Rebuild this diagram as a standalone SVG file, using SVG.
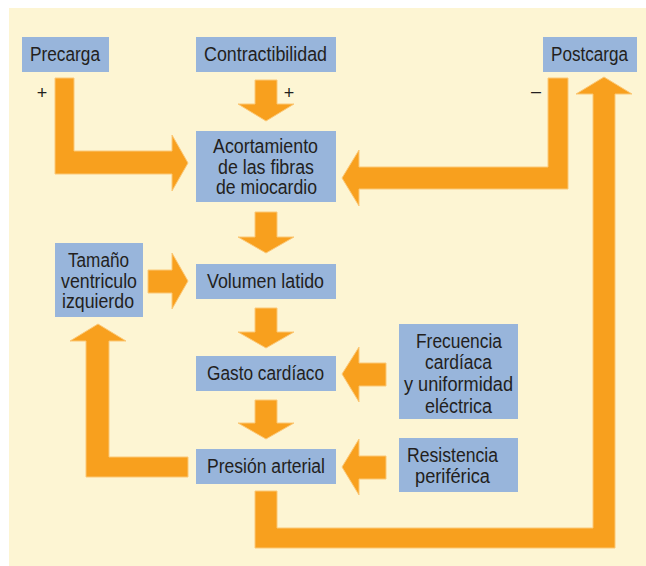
<svg xmlns="http://www.w3.org/2000/svg" width="646" height="566" viewBox="0 0 646 566">
<style>
.bg{fill:#fdf5d3}
.box{fill:#98b5db}
.t{font-family:"Liberation Sans",Arial,sans-serif;font-size:19.5px;fill:#231f20;text-anchor:middle}
.s{font-family:"Liberation Sans",Arial,sans-serif;font-size:18px;fill:#231f20;text-anchor:middle}
.arr{fill:#f8a01e;stroke:#fbc877;stroke-width:1;stroke-linejoin:miter}
</style>
<rect width="646" height="566" fill="#ffffff"/>
<rect class="bg" x="9" y="8" width="637" height="558"/>
<g id="connectors">
<polygon class="arr" points="55,78 74,78 74,151 172,151 172,135 188,163 172,191 172,174 55,174"/>
<polygon class="arr" points="255,80 277,80 277,104 294,104 266,121 238,104 255,104"/>
<polygon class="arr" points="255,212 277,212 277,237 294,237 266,253 238,237 255,237"/>
<polygon class="arr" points="255,308 277,308 277,332 294,332 266,348 238,332 255,332"/>
<polygon class="arr" points="255,400 277,400 277,423 294,423 266,439 238,423 255,423"/>
<polygon class="arr" points="148,270 172,270 172,253 188,281 172,309 172,293 148,293"/>
<polygon class="arr" points="188,457 188,477 86,477 86,341 70,341 98,324 126,341 109,341 109,457"/>
<polygon class="arr" points="255,491 277,491 277,528 593,528 593,94 576,94 604,77 632,94 615,94 615,548 255,548"/>
<polygon class="arr" points="548,78 568,78 568,189 359,189 359,206 342,178 359,150 359,167 548,167"/>
<polygon class="arr" points="386,363 386,386 359,386 359,402 342,374 359,347 359,363"/>
<polygon class="arr" points="386,456 386,479 359,479 359,495 342,467 359,439 359,456"/>
<text class="s" x="42" y="99">+</text>
<text class="s" x="289" y="99">+</text>
<text class="s" x="536" y="97">–</text>
</g>
<g id="precarga">
<rect class="box" x="22" y="37" width="87" height="35"/>
<text class="t" x="65" y="61" textLength="70" lengthAdjust="spacingAndGlyphs">Precarga</text>
</g>
<g id="contractibilidad">
<rect class="box" x="196" y="37" width="140" height="35"/>
<text class="t" x="265.5" y="61" textLength="123" lengthAdjust="spacingAndGlyphs">Contractibilidad</text>
</g>
<g id="postcarga">
<rect class="box" x="543" y="37" width="94" height="35"/>
<text class="t" x="589.5" y="61" textLength="77" lengthAdjust="spacingAndGlyphs">Postcarga</text>
</g>
<g id="acortamiento">
<rect class="box" x="196" y="131" width="140" height="71"/>
<text class="t" x="265.5" y="153" textLength="105" lengthAdjust="spacingAndGlyphs">Acortamiento</text>
<text class="t" x="266" y="174" textLength="96" lengthAdjust="spacingAndGlyphs">de las fibras</text>
<text class="t" x="266.5" y="194" textLength="101" lengthAdjust="spacingAndGlyphs">de miocardio</text>
</g>
<g id="tamano">
<rect class="box" x="55" y="243" width="88" height="74"/>
<text class="t" x="98.5" y="267" textLength="61" lengthAdjust="spacingAndGlyphs">Tamaño</text>
<text class="t" x="99" y="288" textLength="76" lengthAdjust="spacingAndGlyphs">ventriculo</text>
<text class="t" x="98" y="308" textLength="72" lengthAdjust="spacingAndGlyphs">izquierdo</text>
</g>
<g id="volumen">
<rect class="box" x="196" y="264" width="140" height="35"/>
<text class="t" x="265.5" y="288" textLength="117" lengthAdjust="spacingAndGlyphs">Volumen latido</text>
</g>
<g id="gasto">
<rect class="box" x="196" y="356" width="140" height="35"/>
<text class="t" x="265.5" y="380" textLength="117" lengthAdjust="spacingAndGlyphs">Gasto cardíaco</text>
</g>
<g id="presion">
<rect class="box" x="196" y="449" width="140" height="35"/>
<text class="t" x="266" y="473" textLength="118" lengthAdjust="spacingAndGlyphs">Presión arterial</text>
</g>
<g id="frecuencia">
<rect class="box" x="399" y="324" width="119" height="95"/>
<text class="t" x="459" y="348" textLength="86" lengthAdjust="spacingAndGlyphs">Frecuencia</text>
<text class="t" x="458.5" y="369" textLength="67" lengthAdjust="spacingAndGlyphs">cardíaca</text>
<text class="t" x="458.5" y="391" textLength="109" lengthAdjust="spacingAndGlyphs">y uniformidad</text>
<text class="t" x="458.5" y="413" textLength="67" lengthAdjust="spacingAndGlyphs">eléctrica</text>
</g>
<g id="resistencia">
<rect class="box" x="399" y="438" width="119" height="54"/>
<text class="t" x="452.5" y="462" textLength="91" lengthAdjust="spacingAndGlyphs">Resistencia</text>
<text class="t" x="452.5" y="483" textLength="75" lengthAdjust="spacingAndGlyphs">periférica</text>
</g>
</svg>
